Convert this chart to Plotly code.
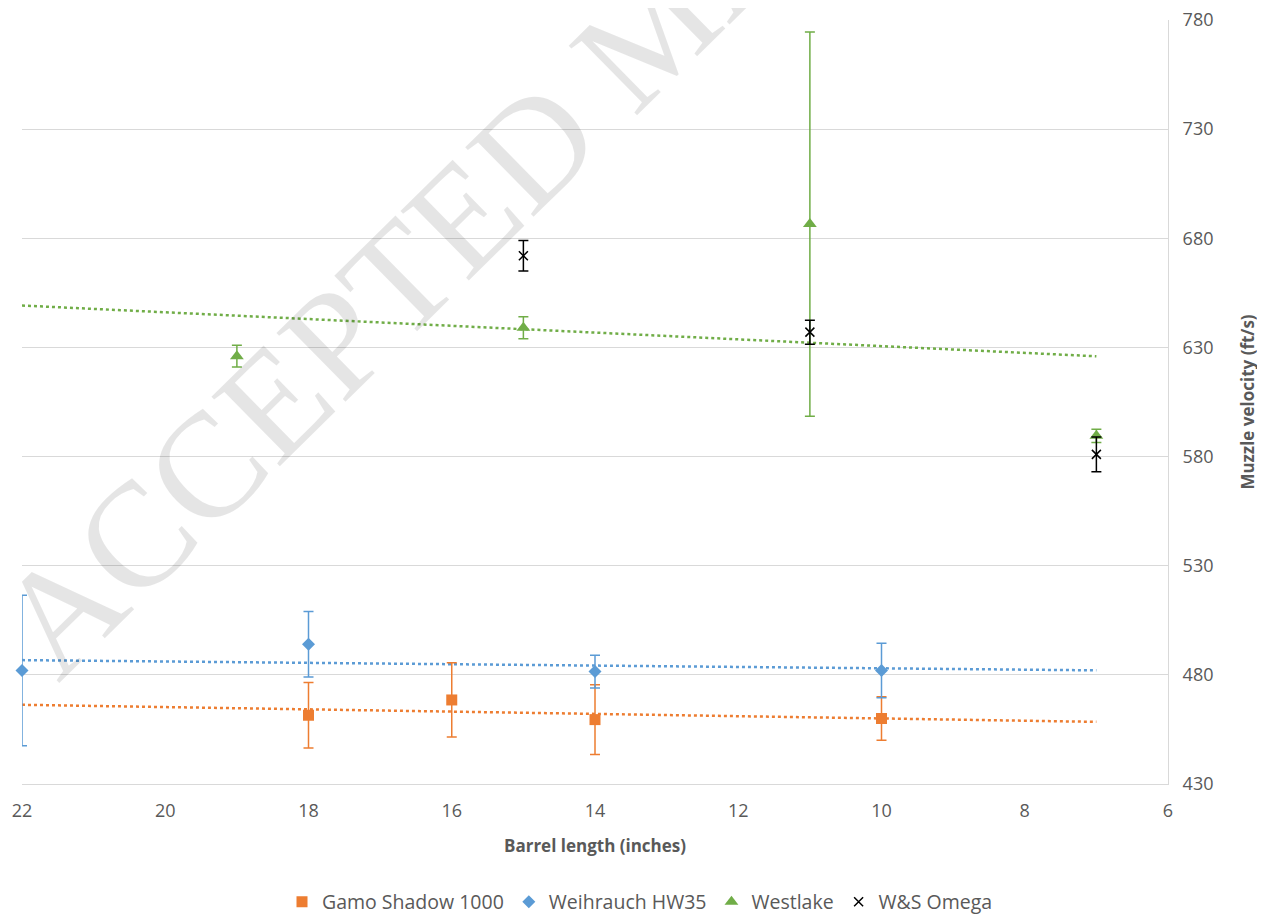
import numpy as np
import plotly.graph_objects as go

# ---- data ----
gamo_x = [18, 16, 14, 10]
gamo_y = [461.5, 468.5, 459.5, 460.0]
gamo_err = [15, 17, 16, 10]

weih_x = [22, 18, 14, 10]
weih_y = [482.0, 494.0, 481.5, 482.0]
weih_err = [34.5, 15, 7.5, 12.5]

west_x = [19, 15, 11, 7]
west_y = [626.0, 639.0, 686.5, 589.5]
west_err = [5, 5, 88, 3]

ws_x = [15, 11, 7]
ws_y = [672.0, 637.0, 581.0]
ws_err = [7, 5.5, 8]

trend_extent = [22, 7]

x_ticks = [22, 20, 18, 16, 14, 12, 10, 8, 6]
y_ticks = [430, 480, 530, 580, 630, 680, 730, 780]

ORANGE = "#ED7D31"
BLUE = "#5B9BD5"
GREEN = "#70AD47"
BLACK = "#000000"
GRAY = "#595959"
GRID = "#D9D9D9"

# the page body adds an 8px offset, so the figure is laid out 8px smaller
OFF = 8
W, H = 1265 - OFF, 914 - OFF
ML, MT = 22 - OFF, 20 - OFF
MR = W - (1168 - OFF)
MB = H - (784 - OFF)
PW, PH = W - ML - MR, H - MT - MB

fig = go.Figure()

def add_trend(x, y, color):
    k, b = np.polyfit(x, y, 1)
    tx = np.array(trend_extent, dtype=float)
    fig.add_trace(go.Scatter(x=tx, y=k * tx + b, mode="lines",
                             line=dict(color=color, width=2.5, dash="dot"),
                             showlegend=False, hoverinfo="skip"))

add_trend(gamo_x, gamo_y, ORANGE)
add_trend(weih_x, weih_y, BLUE)
add_trend(west_x, west_y, GREEN)

def add_series(name, x, y, err, color, symbol, size, lw=0):
    fig.add_trace(go.Scatter(
        x=x, y=y, name=name, mode="markers", cliponaxis=False,
        marker=dict(symbol=symbol, size=size, color=color,
                    line=dict(color=color, width=lw)),
        error_y=dict(type="data", array=err, visible=True, color=color,
                     thickness=1.5, width=5),
    ))

add_series("Gamo Shadow 1000", gamo_x, gamo_y, gamo_err, ORANGE, "square", 11)
add_series("Weihrauch HW35", weih_x, weih_y, weih_err, BLUE, "diamond", 10)
add_series("Westlake", west_x, west_y, west_err, GREEN, "triangle-up", 12)
add_series("W&S Omega", ws_x, ws_y, ws_err, BLACK, "x-thin", 9, lw=1.5)

def px_to_paper(px, py):
    fx, fy = px - OFF, py - OFF
    return (fx - ML) / PW, (H - MB - fy) / PH

# watermark (page-pixel centre of the text)
wx, wy = px_to_paper(653, 28)
fig.add_annotation(
    text="ACCEPTED MANUSCRIPT", xref="paper", yref="paper",
    x=wx, y=wy, xanchor="center", yanchor="middle",
    textangle=-44.5, showarrow=False,
    font=dict(family="Liberation Serif", size=149, color="rgba(0,0,0,0.10)"),
)

lx, ly = px_to_paper(640, 902)
fig.update_layout(
    width=W, height=H,
    margin=dict(l=ML, r=MR, t=MT, b=MB, autoexpand=False),
    paper_bgcolor="white", plot_bgcolor="white",
    font=dict(family="Open Sans", color=GRAY),
    showlegend=True,
    legend=dict(orientation="h", xref="paper", yref="paper",
                x=lx, xanchor="center", y=ly, yanchor="middle",
                font=dict(size=19.5, color=GRAY), itemwidth=30,
                traceorder="normal"),
    xaxis=dict(range=[22, 6], tickvals=x_ticks, showgrid=False,
               zeroline=False, showline=True, linecolor=GRID, linewidth=1,
               ticks="", tickfont=dict(size=18, color=GRAY),
               ticklabelstandoff=10, automargin=False,
               ticklabeloverflow="allow",
               title=dict(text="<b>Barrel length (inches)</b>",
                          font=dict(size=17, color=GRAY), standoff=19)),
    yaxis=dict(range=[430, 780], tickvals=y_ticks, side="right",
               showgrid=True, gridcolor=GRID, gridwidth=1,
               zeroline=False, showline=True, linecolor=GRID, linewidth=1,
               ticks="", tickfont=dict(size=18, color=GRAY),
               ticklabelstandoff=10, automargin=False,
               ticklabeloverflow="allow",
               title=dict(text="<b>Muzzle velocity (ft/s)</b>",
                          font=dict(size=17, color=GRAY), standoff=29)),
)

fig.write_html("out.html")
